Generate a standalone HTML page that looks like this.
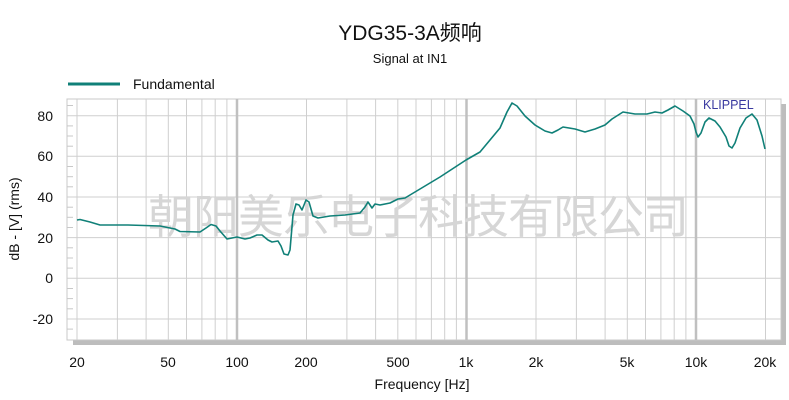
<!DOCTYPE html>
<html><head><meta charset="utf-8"><style>
html,body{margin:0;padding:0;background:#fff;}
svg{display:block;font-family:"Liberation Sans","Noto Sans CJK SC",sans-serif;}
</style></head><body>
<svg width="789" height="400" viewBox="0 0 789 400" xmlns="http://www.w3.org/2000/svg">
<text x="410" y="40" font-size="21" text-anchor="middle" fill="#111">YDG35-3A频响</text>
<text x="410" y="63" font-size="13" text-anchor="middle" fill="#111">Signal at IN1</text>
<line x1="68" y1="84" x2="120" y2="84" stroke="#108078" stroke-width="3"/>
<text x="133" y="89" font-size="14" fill="#111">Fundamental</text>
<!-- shadow -->
<rect x="73" y="340" width="713" height="5" fill="#bdbdbd"/>
<rect x="781" y="104" width="5" height="241" fill="#bdbdbd"/>
<rect x="67" y="99" width="714" height="241" fill="#fff" stroke="#c8c8c8" stroke-width="1"/>
<g stroke="#cfcfcf" stroke-width="1">
<line x1="67" x2="781" y1="115.7" y2="115.7"/>
<line x1="67" x2="781" y1="156.3" y2="156.3"/>
<line x1="67" x2="781" y1="197" y2="197"/>
<line x1="67" x2="781" y1="237.6" y2="237.6"/>
<line x1="67" x2="781" y1="278.3" y2="278.3"/>
<line x1="67" x2="781" y1="319" y2="319"/>
</g>
<g stroke="#cfcfcf" stroke-width="1" id="vg">
<line y1="99" y2="340" x1="77" x2="77"/><line y1="99" y2="340" x1="117.4" x2="117.4"/><line y1="99" y2="340" x1="146.1" x2="146.1"/><line y1="99" y2="340" x1="168.3" x2="168.3"/><line y1="99" y2="340" x1="186.5" x2="186.5"/><line y1="99" y2="340" x1="201.9" x2="201.9"/><line y1="99" y2="340" x1="215.2" x2="215.2"/><line y1="99" y2="340" x1="226.9" x2="226.9"/>
<line y1="99" y2="340" x1="306.5" x2="306.5"/><line y1="99" y2="340" x1="346.9" x2="346.9"/><line y1="99" y2="340" x1="375.6" x2="375.6"/><line y1="99" y2="340" x1="397.8" x2="397.8"/><line y1="99" y2="340" x1="416" x2="416"/><line y1="99" y2="340" x1="431.4" x2="431.4"/><line y1="99" y2="340" x1="444.7" x2="444.7"/><line y1="99" y2="340" x1="456.4" x2="456.4"/>
<line y1="99" y2="340" x1="536" x2="536"/><line y1="99" y2="340" x1="576.4" x2="576.4"/><line y1="99" y2="340" x1="605.1" x2="605.1"/><line y1="99" y2="340" x1="627.3" x2="627.3"/><line y1="99" y2="340" x1="645.5" x2="645.5"/><line y1="99" y2="340" x1="660.9" x2="660.9"/><line y1="99" y2="340" x1="674.2" x2="674.2"/><line y1="99" y2="340" x1="685.9" x2="685.9"/>
<line y1="99" y2="340" x1="765.5" x2="765.5"/>
</g>
<g stroke="#c0c0c0" stroke-width="2.5">
<line y1="99" y2="340" x1="237" x2="237"/><line y1="99" y2="340" x1="466.5" x2="466.5"/><line y1="99" y2="340" x1="696" x2="696"/>
</g>
<g stroke="#c8c8c8" stroke-width="1">
<line x1="67" x2="73" y1="105.5" y2="105.5"/><line x1="67" x2="73" y1="125.9" y2="125.9"/><line x1="67" x2="73" y1="136" y2="136"/><line x1="67" x2="73" y1="146.2" y2="146.2"/><line x1="67" x2="73" y1="166.5" y2="166.5"/><line x1="67" x2="73" y1="176.7" y2="176.7"/><line x1="67" x2="73" y1="186.8" y2="186.8"/><line x1="67" x2="73" y1="207.2" y2="207.2"/><line x1="67" x2="73" y1="217.3" y2="217.3"/><line x1="67" x2="73" y1="227.5" y2="227.5"/><line x1="67" x2="73" y1="247.8" y2="247.8"/><line x1="67" x2="73" y1="258" y2="258"/><line x1="67" x2="73" y1="268.1" y2="268.1"/><line x1="67" x2="73" y1="288.5" y2="288.5"/><line x1="67" x2="73" y1="298.6" y2="298.6"/><line x1="67" x2="73" y1="308.8" y2="308.8"/><line x1="67" x2="73" y1="329.1" y2="329.1"/>
</g>
<text x="418" y="233" font-size="46" text-anchor="middle" fill="#d6d6d6" font-family="'Noto Sans CJK SC',sans-serif" letter-spacing="-1">朝阳美乐电子科技有限公司</text>
<text x="703" y="109" font-size="12.5" fill="#3a3aa0">KLIPPEL</text>
<polyline fill="none" stroke="#108078" stroke-width="1.6" stroke-linejoin="round" points="77,220 80,219.5 90,222 100,225 128,225 160,226 175,229 180,231.5 200,232 206,228 211,224.5 216,226 220,231 227,239 232,238 237,237 245,239 250,238 257,235 262,235 268,240 272,242 278,241 281,246 284,254 288,255 290,250 293,215 296,204 299,205 302,210 306,200 309,202 313,216 318,218 330,216 345,215 360,213 365,207 368,202 372,208 375,204 380,205 390,203 398,199 405,198 420,189 440,177 466,160 480,152 490,140 500,128 507,112 512,103 517,106 525,116 535,125 545,131 552,133 558,130 563,127 575,129 585,132 595,129 605,125 612,119 623,112 635,114 647,114 655,112 662,113 668,110 675,106 683,111 690,116 694,124 696,132 698,137 701,133 705,122 709,118 715,121 720,127 726,137 729,146 732,148 735,143 740,128 746,118 752,114 757,120 762,136 765,149"/>
<g font-size="14" fill="#111" text-anchor="end">
<text x="53" y="121">80</text><text x="53" y="161">60</text><text x="53" y="202">40</text><text x="53" y="243">20</text><text x="53" y="283">0</text><text x="53" y="324">-20</text>
</g>
<text transform="translate(19,219) rotate(-90)" font-size="14" fill="#111" text-anchor="middle">dB - [V]  (rms)</text>
<g font-size="14" fill="#111" text-anchor="middle">
<text x="77" y="367">20</text><text x="168" y="367">50</text><text x="237" y="367">100</text><text x="306" y="367">200</text><text x="398" y="367">500</text><text x="466" y="367">1k</text><text x="536" y="367">2k</text><text x="627" y="367">5k</text><text x="696" y="367">10k</text><text x="765" y="367">20k</text>
</g>
<text x="422" y="389" font-size="14" fill="#111" text-anchor="middle">Frequency [Hz]</text>
</svg>
</body></html>
